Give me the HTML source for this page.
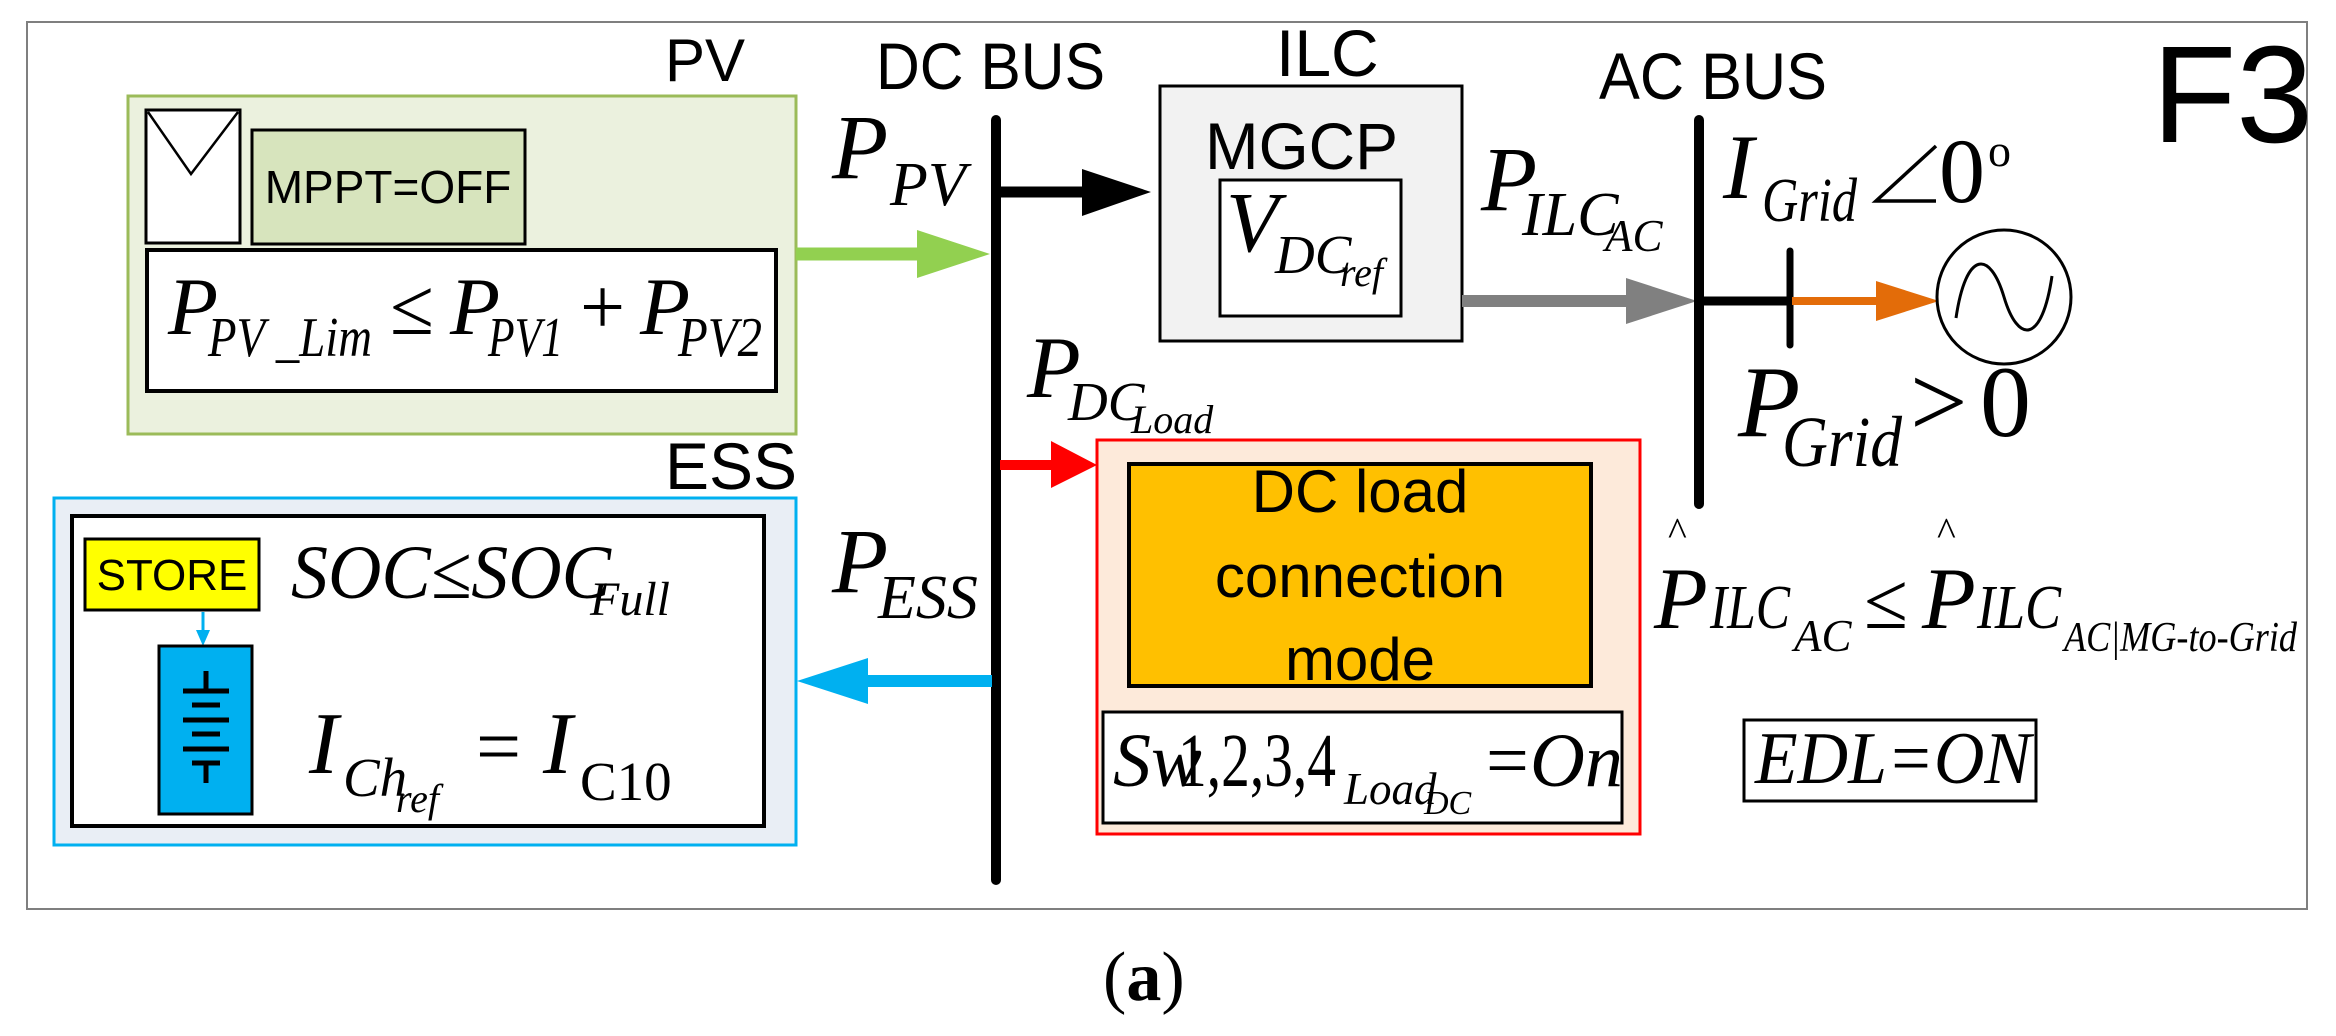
<!DOCTYPE html>
<html><head><meta charset="utf-8"><style>
html,body{margin:0;padding:0;background:#fff}
svg{display:block}
.s{font-family:"Liberation Sans",sans-serif}
.m{font-family:"Liberation Serif",serif;font-style:italic}
.r{font-family:"Liberation Serif",serif}
</style></head><body>
<svg width="2336" height="1036" viewBox="0 0 2336 1036" xmlns="http://www.w3.org/2000/svg">
<rect x="27" y="22" width="2280" height="887" fill="#fff" stroke="#7f7f7f" stroke-width="2"/>

<text x="665" y="81" class="s" font-size="60">PV</text>
<rect x="128" y="96" width="668" height="338" fill="#ebf1de" stroke="#9bbb59" stroke-width="3"/>
<rect x="146" y="110" width="94" height="133" fill="#fff" stroke="#000" stroke-width="3"/>
<polyline points="148,112 191,174 238,112" fill="none" stroke="#000" stroke-width="2.5"/>
<rect x="252" y="130" width="273" height="114" fill="#d7e4bd" stroke="#000" stroke-width="3"/>
<text x="388" y="203" class="s" font-size="46" text-anchor="middle">MPPT=OFF</text>
<rect x="147" y="250" width="629" height="141" fill="#fff" stroke="#000" stroke-width="4"/>
<text x="168" y="334" class="m" font-size="82">P</text>
<text x="208" y="356" class="m" font-size="56" textLength="164" lengthAdjust="spacingAndGlyphs">PV _Lim</text>
<text x="390" y="334" class="r" font-size="80">≤</text>
<text x="450" y="334" class="m" font-size="82">P</text>
<text x="488" y="356" class="m" font-size="56" textLength="75" lengthAdjust="spacingAndGlyphs">PV1</text>
<text x="580" y="334" class="r" font-size="80">+</text>
<text x="640" y="334" class="m" font-size="82">P</text>
<text x="678" y="356" class="m" font-size="56" textLength="84" lengthAdjust="spacingAndGlyphs">PV2</text>

<text x="876" y="89" class="s" font-size="66" textLength="229" lengthAdjust="spacingAndGlyphs">DC BUS</text>
<line x1="996" y1="120" x2="996" y2="880" stroke="#000" stroke-width="10" stroke-linecap="round"/>
<text x="832" y="178" class="m" font-size="92">P</text>
<text x="890" y="205" class="m" font-size="62">PV</text>
<line x1="1000" y1="192" x2="1085" y2="192" stroke="#000" stroke-width="11"/>
<polygon points="1082,169 1151,192 1082,216" fill="#000"/>
<line x1="796" y1="254" x2="920" y2="254" stroke="#92d050" stroke-width="13"/>
<polygon points="917,230 990,254 917,278" fill="#92d050"/>
<text x="1027" y="397" class="m" font-size="88">P</text>
<text x="1068" y="420" class="m" font-size="55">DC</text>
<text x="1131" y="433" class="m" font-size="40">Load</text>
<line x1="1000" y1="465" x2="1055" y2="465" stroke="#ff0000" stroke-width="10"/>
<polygon points="1051,441 1097,465 1051,488" fill="#ff0000"/>

<text x="665" y="489" class="s" font-size="66">ESS</text>
<rect x="54" y="498" width="742" height="347" fill="#e9eef5" stroke="#00b0f0" stroke-width="3"/>
<rect x="72" y="516" width="692" height="310" fill="#fff" stroke="#000" stroke-width="4"/>
<rect x="85" y="539" width="174" height="71" fill="#ffff00" stroke="#000" stroke-width="3"/>
<text x="172" y="590" class="s" font-size="44" text-anchor="middle">STORE</text>
<line x1="203" y1="612" x2="203" y2="632" stroke="#00b0f0" stroke-width="3"/>
<polygon points="196,630 210,630 203,646" fill="#00b0f0"/>
<rect x="159" y="646" width="93" height="168" fill="#00b0f0" stroke="#000" stroke-width="3"/>
<g stroke="#000" stroke-width="5">
<line x1="206" y1="671" x2="206" y2="691"/>
<line x1="183" y1="691" x2="229" y2="691"/>
<line x1="192" y1="705" x2="220" y2="705"/>
<line x1="183" y1="720" x2="229" y2="720"/>
<line x1="192" y1="734" x2="220" y2="734"/>
<line x1="183" y1="749" x2="229" y2="749"/>
<line x1="192" y1="763" x2="220" y2="763"/>
<line x1="206" y1="763" x2="206" y2="783"/>
</g>
<text x="291" y="598" class="m" font-size="76" textLength="320" lengthAdjust="spacingAndGlyphs">SOC≤SOC</text>
<text x="590" y="615" class="m" font-size="48">Full</text>
<text x="309" y="773" class="m" font-size="88">I</text>
<text x="343" y="796" class="m" font-size="55">Ch</text>
<text x="396" y="812" class="m" font-size="40">ref</text>
<text x="476" y="773" class="r" font-size="80">=</text>
<text x="543" y="773" class="m" font-size="88">I</text>
<text x="580" y="800" class="r" font-size="55">C10</text>
<text x="832" y="592" class="m" font-size="92">P</text>
<text x="878" y="618" class="m" font-size="62">ESS</text>
<line x1="992" y1="681" x2="864" y2="681" stroke="#00b0f0" stroke-width="12"/>
<polygon points="868,658 797,681 868,704" fill="#00b0f0"/>

<rect x="1097" y="440" width="543" height="394" fill="#fdeada" stroke="#ff0000" stroke-width="3"/>
<rect x="1129" y="464" width="462" height="222" fill="#ffc000" stroke="#000" stroke-width="4"/>
<text x="1360" y="512" class="s" font-size="60" text-anchor="middle">DC load</text>
<text x="1360" y="597" class="s" font-size="60" text-anchor="middle">connection</text>
<text x="1360" y="680" class="s" font-size="60" text-anchor="middle">mode</text>
<rect x="1103" y="712" width="519" height="111" fill="#fff" stroke="#000" stroke-width="3"/>
<text x="1113" y="786" class="m" font-size="76">Sw</text>
<text x="1178" y="786" class="r" font-size="76" textLength="158" lengthAdjust="spacingAndGlyphs">1,2,3,4</text>
<text x="1344" y="804" class="m" font-size="45">Load</text>
<text x="1424" y="814" class="m" font-size="34">DC</text>
<text x="1486" y="786" class="r" font-size="76">=</text>
<text x="1530" y="786" class="m" font-size="76">On</text>

<text x="1276" y="76" class="s" font-size="66">ILC</text>
<rect x="1160" y="86" width="302" height="255" fill="#f2f2f2" stroke="#000" stroke-width="3"/>
<text x="1205" y="169" class="s" font-size="66" textLength="193" lengthAdjust="spacingAndGlyphs">MGCP</text>
<rect x="1220" y="180" width="181" height="136" fill="#fff" stroke="#000" stroke-width="3"/>
<text x="1226" y="251" class="m" font-size="86">V</text>
<text x="1275" y="273" class="m" font-size="55">DC</text>
<text x="1340" y="286" class="m" font-size="40">ref</text>
<line x1="1462" y1="301" x2="1630" y2="301" stroke="#808080" stroke-width="12"/>
<polygon points="1626,278 1697,301 1626,324" fill="#808080"/>
<text x="1481" y="210" class="m" font-size="92">P</text>
<text x="1522" y="235" class="m" font-size="62">ILC</text>
<text x="1605" y="251" class="m" font-size="45">AC</text>

<text x="1599" y="99" class="s" font-size="66" textLength="228" lengthAdjust="spacingAndGlyphs">AC BUS</text>
<line x1="1699" y1="120" x2="1699" y2="504" stroke="#000" stroke-width="10" stroke-linecap="round"/>
<line x1="1699" y1="301" x2="1790" y2="301" stroke="#000" stroke-width="9"/>
<line x1="1790" y1="251" x2="1790" y2="345" stroke="#000" stroke-width="7" stroke-linecap="round"/>
<line x1="1792" y1="301" x2="1880" y2="301" stroke="#e36c09" stroke-width="8"/>
<polygon points="1876,281 1939,301 1876,321" fill="#e36c09"/>
<circle cx="2004" cy="297" r="67" fill="#fff" stroke="#000" stroke-width="3"/>
<path d="M1956,318 C1966,250 1990,250 2004,297 C2018,344 2042,344 2052,276" fill="none" stroke="#000" stroke-width="3"/>
<text x="1723" y="198" class="m" font-size="92">I</text>
<text x="1762" y="221" class="m" font-size="62" textLength="95" lengthAdjust="spacingAndGlyphs">Grid</text>
<polyline points="1936,146 1876,201 1936,201" fill="none" stroke="#000" stroke-width="3.5"/>
<text x="1939" y="202" class="r" font-size="92">0</text>
<text x="1988" y="166" class="r" font-size="46">o</text>
<text x="1738" y="436" class="m" font-size="102">P</text>
<text x="1782" y="466" class="m" font-size="72" textLength="120" lengthAdjust="spacingAndGlyphs">Grid</text>
<text x="1910" y="436" class="r" font-size="102">&gt;</text>
<text x="1980" y="436" class="r" font-size="102">0</text>

<text x="2152" y="142" class="s" font-size="138">F3</text>

<text x="1668" y="545" class="r" font-size="40">^</text>
<text x="1937" y="545" class="r" font-size="40">^</text>
<text x="1654" y="628" class="m" font-size="88">P</text>
<text x="1710" y="628" class="m" font-size="62" textLength="80" lengthAdjust="spacingAndGlyphs">ILC</text>
<text x="1794" y="651" class="m" font-size="45">AC</text>
<text x="1864" y="628" class="r" font-size="80">≤</text>
<text x="1922" y="628" class="m" font-size="88">P</text>
<text x="1977" y="628" class="m" font-size="62" textLength="84" lengthAdjust="spacingAndGlyphs">ILC</text>
<text x="2064" y="651" class="m" font-size="42" textLength="233" lengthAdjust="spacingAndGlyphs">AC|MG-to-Grid</text>
<rect x="1744" y="720" width="292" height="81" fill="#fff" stroke="#000" stroke-width="3"/>
<text x="1755" y="783" class="m" font-size="74" textLength="276" lengthAdjust="spacingAndGlyphs">EDL=ON</text>

<text x="1103" y="1000" class="r" font-size="70"><tspan>(</tspan><tspan font-weight="bold">a</tspan><tspan>)</tspan></text>
</svg>
</body></html>
